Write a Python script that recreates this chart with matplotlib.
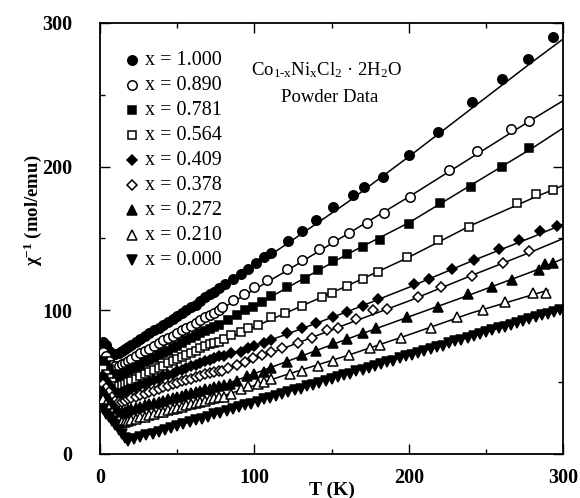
import matplotlib.pyplot as plt

plt.rcParams['font.family'] = ['Liberation Serif', 'DejaVu Serif']
plt.rcParams['mathtext.fontset'] = 'custom'
plt.rcParams['mathtext.rm'] = 'Liberation Serif'
plt.rcParams['mathtext.it'] = 'Liberation Serif:italic'
plt.rcParams['mathtext.bf'] = 'Liberation Serif:bold'

# 低温区共用的温度点 (K)
t_low = [2, 4, 6, 8, 10, 12, 14, 16, 18, 20, 23, 26, 29, 32, 35, 38, 41, 44, 47,
         50, 53, 56, 59, 62, 65, 68, 71, 74, 77]

# x = 1.000
chi_low_1000 = [78, 76, 72, 69, 69.5, 70.5, 72, 73, 74.5, 76, 78, 80, 82, 84, 86, 88, 90, 92, 94,
                96, 98, 100, 102, 104, 106.5, 109, 111, 113, 115.5]
t_1000 = [81, 86, 91, 96, 101, 106, 111, 122, 131, 140, 151, 164, 171, 183, 200, 219, 241, 260, 277, 293]
chi_1000 = [118, 122, 125, 129, 133, 137, 140, 148, 155, 163, 172, 180, 186, 193, 208, 224, 245, 261, 275, 290]

# x = 0.890
chi_low_890 = [71, 68, 65, 62, 61, 61.5, 62.5, 63.5, 65, 66, 68, 70, 71.5, 73, 75, 77, 79, 80.5, 82,
               84, 86, 87.5, 89, 91, 93, 95, 96.5, 98, 100]
t_890 = [79, 86, 93, 100, 108, 121, 131, 142, 151, 161, 173, 184, 201, 226, 244, 266, 278]
chi_890 = [102, 107, 111, 116, 121, 129, 135, 143, 148, 154, 161, 168, 179, 198, 211, 226, 232]

# x = 0.781
chi_low_781 = [65, 62, 59, 56, 54, 54.5, 55.5, 56.5, 58, 59, 60.5, 62, 64, 65.5, 67, 69, 70.5, 72, 74,
               75.5, 77, 79, 80.5, 82, 84, 85.5, 87, 88.5, 90]
t_781 = [83, 89, 94, 99, 105, 111, 121, 133, 141, 151, 160, 170, 181, 200, 220, 240, 260, 278]
chi_781 = [93, 97, 100, 102, 106, 110, 116, 122, 128, 134, 139, 144, 149, 160, 175, 186, 200, 213]

# x = 0.564
chi_low_564 = [59, 56, 53, 50, 47.5, 47, 48, 49, 50, 51, 52.5, 54, 55.5, 57, 58.5, 60, 61.5, 63, 64.5,
               66, 67.5, 69, 70.5, 72, 73.5, 75, 76.5, 77.5, 78]
t_564 = [80, 85, 91, 96, 102, 111, 120, 131, 144, 150, 160, 170, 180, 199, 219, 239, 270, 282, 293]
chi_564 = [80, 83, 85, 88, 90, 95, 98, 103, 109, 112, 117, 122, 127, 137, 149, 158, 175, 181, 184]

# x = 0.409
chi_low_409 = [54, 51, 48, 45, 42.5, 42, 43, 44, 45, 45.5, 46.5, 48, 49, 50, 51.5, 52.5, 54, 55, 56,
               57.5, 58.5, 60, 61, 62, 63.5, 64.5, 65.5, 67, 68]
t_409 = [80, 85, 91, 96, 100, 106, 111, 121, 131, 140, 151, 160, 170, 180, 203, 213, 228, 242, 258,
         271, 285, 296]
chi_409 = [68, 70, 71, 74, 75, 77, 79, 84, 88, 91, 95, 99, 103, 108, 118, 122, 129, 135, 143,
           149, 155, 159]

# x = 0.378
chi_low_378 = [49, 46, 43, 40, 37, 36, 36.5, 37, 38, 39, 40, 41, 42, 43, 44, 45, 46.5, 47.5, 48.5,
               49.5, 50.5, 51.5, 52.5, 53.5, 54.5, 55.5, 56.5, 57, 57.5]
t_378 = [79, 83, 89, 94, 99, 105, 111, 118, 128, 137, 147, 154, 166, 177, 186, 206, 221, 241, 261, 278]
chi_378 = [58, 60, 62, 64, 67, 69, 71, 74, 77, 81, 86, 88, 94, 100, 101, 109, 116, 124, 133, 141]

# x = 0.272
chi_low_272 = [44, 41, 38, 35, 32, 29.5, 29, 29.5, 30.5, 31, 32, 33, 34, 34.5, 35.5, 36.5, 37, 38, 39,
               40, 40.5, 41.5, 42.5, 43, 44, 45, 45.5, 46.5, 47.5]
t_272 = [80, 84, 89, 95, 100, 106, 111, 121, 131, 140, 151, 160, 170, 179, 199, 219, 238, 254, 267,
         284, 288, 293]
chi_272 = [48, 49, 51, 54, 56, 57, 60, 64, 69, 72, 77, 80, 84, 88, 95, 102, 111, 116, 121,
           128, 132, 133]

# x = 0.210
chi_low_210 = [38, 35, 32, 29, 26, 23.5, 22, 22, 23, 23.5, 24.5, 25.5, 26, 27, 28, 29, 29.5, 30.5, 31.5,
               32, 33, 34, 34.5, 35.5, 36.5, 37, 38, 39, 39.5]
t_210 = [80, 85, 91, 96, 102, 106, 111, 123, 131, 141, 151, 161, 175, 181, 195, 214, 231, 248, 262, 280, 289]
chi_210 = [40, 42, 45, 47, 49, 50, 52, 56, 58, 61, 65, 69, 74, 76, 81, 88, 95, 100, 106, 112, 112]

# x = 0.000 (整个温区都是密集数据点)
t_000 = [2, 4, 6, 8, 10, 12, 14, 16, 18, 22, 26, 30, 34, 38, 42, 46, 50, 54, 58, 62, 66, 70, 74, 78,
         82, 86, 90, 94, 98, 102, 106, 110, 114, 118, 122, 126, 130, 134, 138, 142, 146, 150, 154,
         158, 162, 166, 170, 174, 178, 182, 186, 190, 194, 198, 202, 206, 210, 214, 218, 222, 226,
         230, 234, 238, 242, 246, 250, 254, 258, 262, 266, 270, 274, 278, 282, 286, 290, 294, 298]
chi_000 = [31, 28, 25.5, 23, 20, 17, 14, 11, 9, 10.5, 11.5, 13, 14, 15.5, 17, 18, 19.5, 21, 22, 23.5,
           24.5, 26, 27.5, 28.5, 30, 31.5, 32.5, 34, 35, 36.5, 38, 39, 40.5, 41.5, 43, 44.5, 45.5, 47,
           48, 49.5, 51, 52, 53.5, 55, 56, 57.5, 58.5, 60, 61.5, 62.5, 64, 65, 66.5, 68, 69, 70.5, 72,
           73, 74.5, 75.5, 77, 78.5, 79.5, 81, 82, 83.5, 85, 86, 87.5, 88.5, 90, 91, 92.5, 94, 95,
           96.5, 97.5, 99, 100.5]

# 拟合曲线上读出的点
fit_t = [15, 40, 80, 120, 160, 200, 240, 280, 300]
fit_1000 = [72.5, 89, 117, 145.5, 175, 207, 240, 273, 289]
fit_890 = [62, 74, 102, 127, 153, 179, 206, 233, 246]
fit_781 = [55, 67, 91, 115, 139, 161, 187, 213, 227]
fit_564 = [48, 59, 79, 98, 117, 137, 159, 178, 187]
fit_409 = [43, 52, 68, 83, 99, 116, 134, 151, 160]
fit_378 = [36.5, 46, 58.5, 74, 90.5, 106.5, 124, 141, 150]
fit_272 = [29, 36, 48, 64, 80, 95.5, 111, 127, 136]
fit_t_210 = [16, 40, 80, 120, 160, 200, 240, 290]
fit_210 = [22, 29, 40.5, 55, 68.5, 83, 98, 114]
fit_t_000 = [18, 80, 160, 230, 300]
fit_000 = [9, 29.5, 56, 78.5, 101]

labels = ['x = 1.000', 'x = 0.890', 'x = 0.781', 'x = 0.564', 'x = 0.409',
          'x = 0.378', 'x = 0.272', 'x = 0.210', 'x = 0.000']

# 组装每条曲线
series = [
    (t_low + t_1000, chi_low_1000 + chi_1000, fit_t, fit_1000),
    (t_low + t_890, chi_low_890 + chi_890, fit_t, fit_890),
    (t_low + t_781, chi_low_781 + chi_781, fit_t, fit_781),
    (t_low + t_564, chi_low_564 + chi_564, fit_t, fit_564),
    (t_low + t_409, chi_low_409 + chi_409, fit_t, fit_409),
    (t_low + t_378, chi_low_378 + chi_378, fit_t, fit_378),
    (t_low + t_272, chi_low_272 + chi_272, fit_t, fit_272),
    (t_low + t_210, chi_low_210 + chi_210, fit_t_210, fit_210),
    (t_000, chi_000, fit_t_000, fit_000),
]

# 样式
markers = ['o', 'o', 's', 's', 'D', 'D', '^', '^', 'v']
filled = [True, False, True, False, True, False, True, False, True]
msizes = [6.8, 6.8, 6.2, 6.2, 4.8, 4.8, 6.8, 6.8, 6.8]

fig = plt.figure(figsize=(5.8, 4.98), dpi=100)
ax = fig.add_axes([0.1724, 0.0884, 0.799, 0.8655])

for i, (t, chi, ft, fchi) in enumerate(series):
    ax.plot(ft, fchi, color='black', lw=1.1, zorder=2)
    face = 'black' if filled[i] else 'white'
    ax.plot(t, chi, linestyle='none', marker=markers[i], ms=msizes[i],
            mfc=face, mec='black', mew=1.1, zorder=3)

# 图例 (手动放置)
for i, lab in enumerate(labels):
    y = 0.914 - i * 0.058
    face = 'black' if filled[i] else 'white'
    ax.plot([0.069], [y], transform=ax.transAxes, marker=markers[i], ms=msizes[i],
            mfc=face, mec='black', mew=1.1, linestyle='none', zorder=5)
    ax.text(0.097, y, lab, transform=ax.transAxes, fontsize=14.5, va='center', ha='left')

ax.text(0.49, 0.891, r'Co$_{\mathrm{1\text{-}x}}$Ni$_{\mathrm{x}}$Cl$_2$ · 2H$_2$O',
        transform=ax.transAxes, fontsize=13.5, ha='center', va='center')
ax.text(0.496, 0.828, 'Powder Data', transform=ax.transAxes, fontsize=13.5,
        ha='center', va='center')

ax.set_xlim(0, 300)
ax.set_ylim(0, 300)
ax.set_xticks([0, 100, 200, 300])
ax.set_xticks([50, 150, 250], minor=True)
ax.set_yticks([0, 100, 200, 300])
ax.set_yticks([50, 150, 250], minor=True)
ax.tick_params(which='both', direction='in', top=True, right=True, width=1.0)
ax.tick_params(which='major', length=7, labelsize=14.5)
ax.tick_params(which='minor', length=3.5)
ax.tick_params(axis='y', pad=20)
ax.tick_params(axis='x', pad=10)
for lab in ax.get_xticklabels() + ax.get_yticklabels():
    lab.set_fontweight('bold')
for sp in ax.spines.values():
    sp.set_linewidth(1.3)

fig.text(0.572, 0.016, 'T (K)', fontsize=14, fontweight='bold', ha='center', va='center')
fig.text(0.057, 0.578, r'χ$^{\mathbf{-1}}$ (mol/emu)', fontsize=13.5, fontweight='bold',
         rotation=90, ha='center', va='center')

fig.savefig('out.png', dpi=100)
